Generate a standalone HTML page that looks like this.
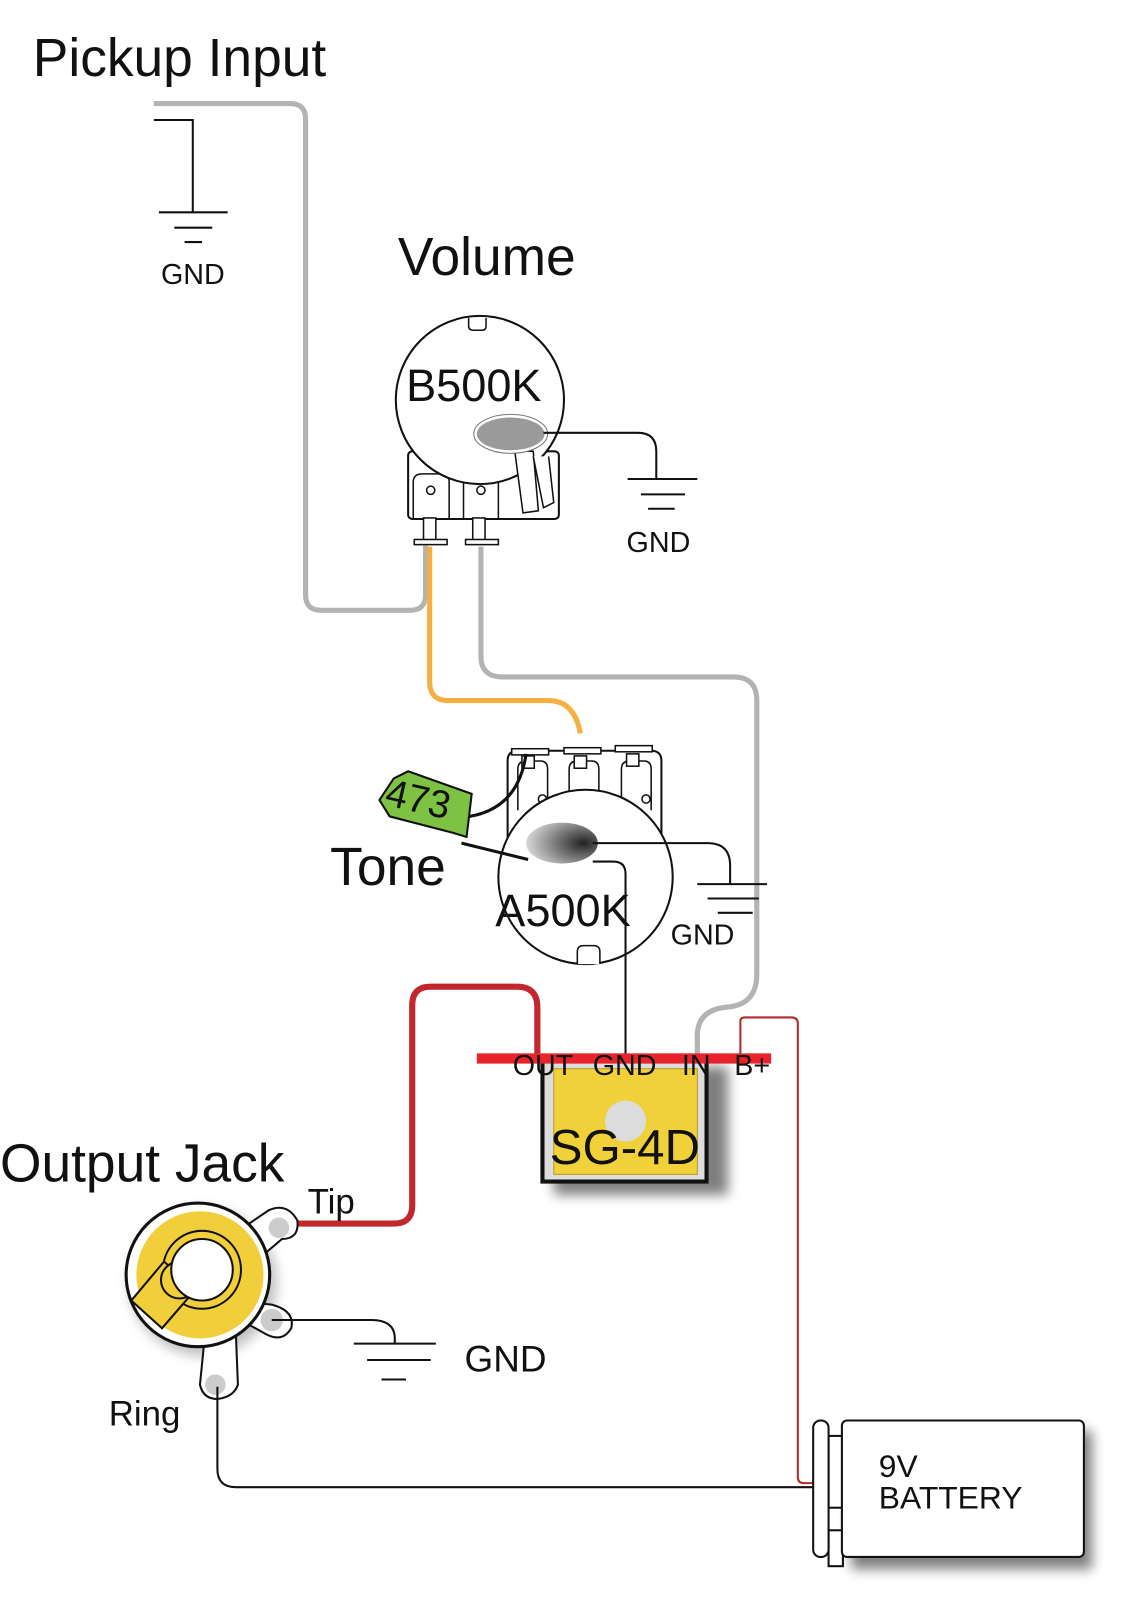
<!DOCTYPE html>
<html><head><meta charset="utf-8"><style>
html,body{margin:0;padding:0;background:#fff;}
svg{display:block;}
text{font-family:"Liberation Sans",sans-serif;fill:#111;}
</style></head><body>
<svg width="1128" height="1599" viewBox="0 0 1100 1559" preserveAspectRatio="none" xmlns="http://www.w3.org/2000/svg">
<defs>
<radialGradient id="shaft" cx="0.8" cy="0.5" r="0.9"><stop offset="0" stop-color="#222"/><stop offset="1" stop-color="#eee"/></radialGradient>
<filter id="sh" x="-20%" y="-20%" width="150%" height="150%"><feGaussianBlur stdDeviation="6"/></filter>
</defs>
<text x="32" y="74" font-size="52">Pickup Input</text>
<text x="388" y="268" font-size="52">Volume</text>
<text x="322" y="863" font-size="52">Tone</text>
<text x="0" y="1152" font-size="52">Output Jack</text>

<path d="M150 101 H283 Q298 101 298 116 V580 Q298 595 313 595 H400 Q415 595 415 580 V532" fill="none" stroke="#b3b3b3" stroke-width="5"/>
<path d="M150 117 H188 V207" fill="none" stroke="#111" stroke-width="2"/>
<path d="M155 207 H222 M170 222 H207 M180 236 H197" stroke="#111" stroke-width="2"/>
<text x="157" y="277" font-size="28">GND</text>

<rect x="398" y="440" width="147" height="66" rx="4" fill="#fff" stroke="#111" stroke-width="2"/>
<path d="M403 505 V470 Q403 462 412 462 H430 Q438 462 438 470 V505" fill="#fff" stroke="#111" stroke-width="1.5"/>
<path d="M452 505 V470 Q452 462 461 462 H478 Q486 462 486 470 V505" fill="#fff" stroke="#111" stroke-width="1.5"/>
<circle cx="420" cy="478" r="4" fill="#fff" stroke="#111" stroke-width="1.5"/>
<circle cx="469" cy="478" r="4" fill="#fff" stroke="#111" stroke-width="1.5"/>
<rect x="413" y="505" width="12" height="22" fill="#fff" stroke="#111" stroke-width="1.5"/>
<rect x="461" y="505" width="12" height="22" fill="#fff" stroke="#111" stroke-width="1.5"/>
<rect x="404" y="526" width="32" height="5" fill="#fff" stroke="#111" stroke-width="1.5"/>
<rect x="454" y="526" width="32" height="5" fill="#fff" stroke="#111" stroke-width="1.5"/>
<circle cx="468" cy="390" r="82" fill="#fff" stroke="#111" stroke-width="2"/>
<path d="M457 310 V318 Q457 322 462 322 H470 Q474 322 474 318 V310" fill="#fff" stroke="#111" stroke-width="1.5"/>
<path d="M502 440 L510 500 L525 498 L520 440 Z" fill="#fff" stroke="#111" stroke-width="1.5"/>
<path d="M520 445 L530 495 L540 490 L535 445" fill="#fff" stroke="#111" stroke-width="1.5"/>
<ellipse cx="498" cy="423" rx="36" ry="19" fill="#fff" stroke="#777" stroke-width="1"/>
<ellipse cx="498" cy="423" rx="33" ry="16" fill="#9a9a9a"/>
<text x="396" y="391" font-size="44">B500K</text>
<path d="M530 422 H622 Q640 422 640 440 V467" fill="none" stroke="#111" stroke-width="2"/>
<path d="M612 467 H680 M625 482 H668 M632 496 H658" stroke="#111" stroke-width="2"/>
<text x="611" y="538" font-size="28">GND</text>

<path d="M419 533 V665 Q419 683 437 683 H535 Q560 683 566 715" fill="none" stroke="#f5b041" stroke-width="5"/>
<path d="M469 533 V640 Q469 660 490 660 H715 Q738 660 738 683 V950 Q738 980 708 982 Q680 985 680 1010 V1030" fill="none" stroke="#b3b3b3" stroke-width="5"/>

<path d="M495 820 V742 Q495 732 505 732 H635 Q645 732 645 742 V820 Z" fill="#fff" stroke="#111" stroke-width="2"/>
<path d="M505 790 V750 Q505 742 513 742 H527 Q534 742 534 750 V790" fill="#fff" stroke="#111" stroke-width="1.5"/>
<path d="M555 790 V750 Q555 742 563 742 H577 Q584 742 584 750 V790" fill="#fff" stroke="#111" stroke-width="1.5"/>
<path d="M606 790 V750 Q606 742 614 742 H628 Q635 742 635 750 V790" fill="#fff" stroke="#111" stroke-width="1.5"/>
<circle cx="529" cy="779" r="4" fill="#fff" stroke="#111" stroke-width="1.5"/>
<circle cx="579" cy="779" r="4" fill="#fff" stroke="#111" stroke-width="1.5"/>
<circle cx="630" cy="779" r="4" fill="#fff" stroke="#111" stroke-width="1.5"/>
<rect x="509" y="737" width="12" height="12" fill="#fff" stroke="#111" stroke-width="1.5"/>
<rect x="560" y="737" width="12" height="12" fill="#fff" stroke="#111" stroke-width="1.5"/>
<rect x="611" y="735" width="12" height="12" fill="#fff" stroke="#111" stroke-width="1.5"/>
<rect x="499" y="730" width="36" height="6" fill="#fff" stroke="#111" stroke-width="1.5"/>
<rect x="550" y="729" width="36" height="6" fill="#fff" stroke="#111" stroke-width="1.5"/>
<rect x="600" y="727" width="36" height="6" fill="#fff" stroke="#111" stroke-width="1.5"/>
<circle cx="571" cy="855" r="85" fill="#fff" stroke="#111" stroke-width="2"/>
<path d="M563 940 V928 Q563 922 569 922 H579 Q585 922 585 928 V940" fill="#fff" stroke="#111" stroke-width="1.5"/>
<ellipse cx="548" cy="822" rx="35" ry="20" fill="url(#shaft)"/>
<path d="M578 822 H690 Q712 822 712 844 V862" fill="none" stroke="#111" stroke-width="2"/>
<path d="M578 840 H598 Q610 840 610 852 V1030" fill="none" stroke="#111" stroke-width="2"/>
<path d="M680 862 H748 M690 876 H740 M700 890 H734" stroke="#111" stroke-width="2"/>
<text x="654" y="921" font-size="28">GND</text>
<text x="483" y="903" font-size="44">A500K</text>
<path d="M450 797 Q505 792 513 735" fill="none" stroke="#111" stroke-width="3"/>
<path d="M450 822 L515 838" fill="none" stroke="#111" stroke-width="3"/>
<polygon points="384,759 398,752 460,774 455,816 442,812 380,796 370,780" fill="#7dc242" stroke="#111" stroke-width="2"/>
<text x="375" y="793" font-size="38" transform="rotate(13 412 785)" fill="#111">473</text>

<path d="M524 1028 V982 Q524 962 504 962 H420 Q402 962 402 980 V1175 Q402 1193 384 1193 H275" fill="none" stroke="#c1272d" stroke-width="6"/>
<path d="M722 1030 V996 Q722 992 726 992 H772 Q778 992 778 998 V1440 Q778 1446 784 1446 H794" fill="none" stroke="#b22a2a" stroke-width="2"/>

<rect x="540" y="1040" width="170" height="125" fill="#000" opacity="0.5" filter="url(#sh)"/>
<rect x="529" y="1031" width="160" height="121" fill="#ddd" stroke="#111" stroke-width="4"/>
<rect x="540" y="1042" width="140" height="103" fill="#f1d13a" stroke="#b59a20" stroke-width="1"/>
<circle cx="610" cy="1093" r="20" fill="#dcdcdc"/>
<text x="536" y="1135" font-size="48">SG-4D</text>
<rect x="465" y="1027" width="287" height="10" fill="#e8232b"/>
<text x="500" y="1048" font-size="28">OUT</text>
<text x="578" y="1048" font-size="28">GND</text>
<text x="665" y="1048" font-size="28">IN</text>
<text x="716" y="1048" font-size="28">B+</text>

<circle cx="198" cy="1250" r="72" fill="#000" opacity="0.25" filter="url(#sh)"/>
<path d="M232 1350 L230 1300 L200 1300 L195 1350 Q198 1364 212 1364 Q228 1362 232 1350 Z" fill="#fff" stroke="#111" stroke-width="2"/>
<circle cx="210" cy="1350" r="10" fill="#ccc"/>
<path d="M240 1195 L262 1180 Q280 1172 290 1190 Q292 1208 275 1208 L255 1225 Z" fill="#fff" stroke="#111" stroke-width="2"/>
<path d="M245 1270 L265 1272 Q288 1278 284 1295 Q275 1310 258 1300 L240 1290 Z" fill="#fff" stroke="#111" stroke-width="2"/>
<circle cx="272" cy="1197" r="10" fill="#ccc"/>
<circle cx="265" cy="1287" r="11" fill="#ccc"/>
<circle cx="193" cy="1243" r="70" fill="#fff" stroke="#111" stroke-width="3"/>
<circle cx="195" cy="1243" r="62" fill="#f0cf3a"/>
<circle cx="197" cy="1238" r="38" fill="none" stroke="#111" stroke-width="2"/>
<polygon points="128,1268 158,1295 190,1258 160,1230" fill="#f0cf3a" stroke="#111" stroke-width="2"/>
<circle cx="175" cy="1248" r="18" fill="#f0cf3a" stroke="#111" stroke-width="2"/>
<circle cx="197" cy="1238" r="30" fill="#fff" stroke="#111" stroke-width="2"/>
<path d="M265 1287 H362 Q385 1287 385 1305 V1310" fill="none" stroke="#111" stroke-width="2"/>
<path d="M345 1310 H425 M358 1326 H420 M372 1345 H396" stroke="#111" stroke-width="2"/>
<text x="453" y="1337" font-size="36">GND</text>
<text x="300" y="1183" font-size="34">Tip</text>
<text x="106" y="1390" font-size="34">Ring</text>
<path d="M212 1352 V1432 Q212 1450 230 1450 H795" fill="none" stroke="#111" stroke-width="2"/>

<rect x="830" y="1395" width="235" height="135" fill="#000" opacity="0.5" filter="url(#sh)"/>
<rect x="808" y="1400" width="14" height="70" fill="#fff" stroke="#111" stroke-width="2"/>
<rect x="808" y="1492" width="14" height="35" fill="#fff" stroke="#111" stroke-width="2"/>
<rect x="793" y="1385" width="15" height="133" rx="7" fill="#fff" stroke="#111" stroke-width="2"/>
<rect x="821" y="1385" width="236" height="133" rx="5" fill="#fff" stroke="#111" stroke-width="2"/>
<text x="857" y="1440" font-size="31">9V</text>
<text x="857" y="1471" font-size="31">BATTERY</text>
</svg>
</body></html>
